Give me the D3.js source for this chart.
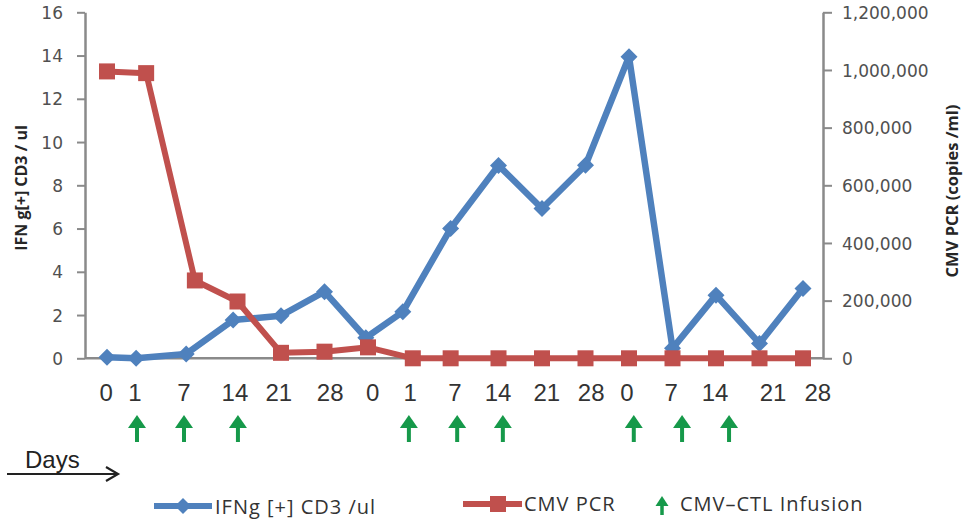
<!DOCTYPE html>
<html>
<head>
<meta charset="utf-8">
<script src="https://cdn.jsdelivr.net/npm/d3@7"></script>
<style>
  html, body { margin: 0; padding: 0; background: #fff; }
  svg { display: block; }
</style>
</head>
<body>
<svg id="chart" width="968" height="521"></svg>
<script>
// ---- data ----
const dayLabels = ["0","1","7","14","21","28","0","1","7","14","21","28","0","7","14","21","28"];
const labelPos  = [-0.02,0.64,1.77,2.94,3.95,5.13,6.11,6.97,8.0,8.99,10.11,11.13,11.95,12.97,13.98,15.31,16.34];
const ifngX     = [0,0.67,1.82,2.9,4,5,5.95,6.8,7.9,9,10,11,12,13,14,15,16];
const ifngVals  = [0.05,0,0.2,1.77,1.97,3.08,0.95,2.15,6.0,8.92,6.93,8.93,13.95,0.46,2.92,0.69,3.23];
const pcrX      = [0,0.9,2.02,3.0,4,5,6,7.03,7.9,9,10,11,12,13,14,15,16];
const pcrVals   = [995000,989000,270000,197000,19000,23000,38000,0,0,0,0,0,0,0,0,0,0];
const infusionX = [0.69,1.77,3.01,6.94,8.05,9.1,12.11,13.22,14.3];
const leftTicks  = [0,2,4,6,8,10,12,14,16];
const rightTicks = [0,200000,400000,600000,800000,1000000,1200000];

const BLUE = "#4f81bd", RED = "#c0504d", GREEN = "#16994a", AXIS = "#8a8a8a";

const svg = d3.select("#chart");

const x  = d3.scaleLinear().domain([0,16]).range([107,803]);
const yL = d3.scaleLinear().domain([0,16]).range([358.3,12.3]);
const yR = d3.scaleLinear().domain([0,1200000]).range([358.3,12.3]);

// ---- axes ----
const leftAx = svg.append("g").attr("transform","translate(85,0)")
  .call(d3.axisLeft(yL).tickValues(leftTicks).tickSize(8).tickSizeOuter(0).tickPadding(14));
const rightAx = svg.append("g").attr("transform","translate(823,0)")
  .call(d3.axisRight(yR).tickValues(rightTicks).tickSize(9).tickSizeOuter(0).tickPadding(10).tickFormat(d3.format(",")));
[leftAx, rightAx].forEach(g => {
  g.select(".domain").attr("stroke",AXIS).attr("stroke-width",2.5);
  g.selectAll(".tick line").attr("stroke",AXIS).attr("stroke-width",2);
  g.selectAll(".tick text").attr("fill","#505050")
    .style("font-family","'DejaVu Sans', sans-serif").style("font-size","17px")
    .attr("dy","0.36em");
});
// baseline
svg.append("line").attr("x1",85).attr("x2",823).attr("y1",yL(0)).attr("y2",yL(0))
  .attr("stroke",AXIS).attr("stroke-width",2.5);

// axis titles
svg.append("text").attr("transform",`translate(27,188) rotate(-90)`)
  .attr("text-anchor","middle").attr("fill","#262626")
  .style("font-family","'Open Sans', sans-serif").style("font-weight","bold").style("font-size","16px")
  .text("IFN g[+] CD3 / ul");
svg.append("text").attr("transform",`translate(958,191) rotate(-90)`)
  .attr("text-anchor","middle").attr("fill","#262626")
  .style("font-family","'Open Sans', sans-serif").style("font-weight","bold").style("font-size","16.5px")
  .text("CMV PCR (copies /ml)");

// ---- x day labels ----
svg.append("g").selectAll("text").data(dayLabels).join("text")
  .attr("x",(d,i)=>x(labelPos[i])).attr("y",401)
  .attr("text-anchor","middle").attr("fill","#333")
  .style("font-family","'Liberation Sans', Arial, sans-serif").style("font-size","24px")
  .text(d=>d);

// ---- infusion arrows ----
function arrowPath(cx, top, headW, headH){
  return `M${cx},${top} L${cx+headW/2},${top+headH} L${cx-headW/2},${top+headH} Z`;
}
const arrows = svg.append("g");
infusionX.forEach(v=>{
  const cx = x(v);
  arrows.append("line").attr("x1",cx).attr("x2",cx).attr("y1",424).attr("y2",442)
    .attr("stroke",GREEN).attr("stroke-width",4);
  arrows.append("path").attr("d",arrowPath(cx,415,18,13)).attr("fill",GREEN);
});

// ---- series ----
const lineL = d3.line().x((d,i)=>x(ifngX[i])).y(d=>yL(d));
const lineR = d3.line().x((d,i)=>x(pcrX[i])).y(d=>yR(d));

svg.append("path").datum(ifngVals).attr("d",lineL).attr("fill","none")
  .attr("stroke",BLUE).attr("stroke-width",6.5).attr("stroke-linejoin","round");
svg.append("g").selectAll("path").data(ifngVals).join("path")
  .attr("transform",(d,i)=>`translate(${x(ifngX[i])},${yL(d)})`)
  .attr("d","M0,-8.5 L8.5,0 L0,8.5 L-8.5,0 Z").attr("fill",BLUE);

svg.append("path").datum(pcrVals).attr("d",lineR).attr("fill","none")
  .attr("stroke",RED).attr("stroke-width",6).attr("stroke-linejoin","round");
svg.append("g").selectAll("rect").data(pcrVals).join("rect")
  .attr("x",(d,i)=>x(pcrX[i])-8).attr("y",d=>yR(d)-8)
  .attr("width",16).attr("height",16).attr("fill",RED);

// ---- Days arrow ----
svg.append("text").attr("x",25).attr("y",468).attr("fill","#222")
  .style("font-family","'Liberation Sans', Arial, sans-serif").style("font-size","24px")
  .text("Days");
svg.append("line").attr("x1",7).attr("x2",116).attr("y1",474).attr("y2",474)
  .attr("stroke","#222").attr("stroke-width",2);
svg.append("path").attr("d","M106,467 L118,474 L106,481").attr("fill","none")
  .attr("stroke","#222").attr("stroke-width",2.2);

// ---- legend ----
const lg = svg.append("g").style("font-family","'Open Sans', sans-serif").style("font-size","20px")
  .style("letter-spacing","1px").attr("fill","#333");
lg.append("line").attr("x1",154).attr("x2",212).attr("y1",506).attr("y2",506).attr("stroke",BLUE).attr("stroke-width",6);
lg.append("path").attr("transform","translate(183,506)").attr("d","M0,-8 L8,0 L0,8 L-8,0 Z").attr("fill",BLUE);
lg.append("text").attr("x",215).attr("y",514).text("IFNg [+] CD3 /ul");

lg.append("line").attr("x1",463).attr("x2",522).attr("y1",504).attr("y2",504).attr("stroke",RED).attr("stroke-width",6);
lg.append("rect").attr("x",490).attr("y",496).attr("width",16).attr("height",16).attr("fill",RED);
lg.append("text").attr("x",524).attr("y",511).text("CMV PCR");

lg.append("line").attr("x1",662).attr("x2",662).attr("y1",503).attr("y2",515).attr("stroke",GREEN).attr("stroke-width",3.5);
lg.append("path").attr("d",arrowPath(662,496,13,10)).attr("fill",GREEN);
lg.append("text").attr("x",680).attr("y",511).text("CMV\u2013CTL Infusion");
</script>
</body>
</html>
